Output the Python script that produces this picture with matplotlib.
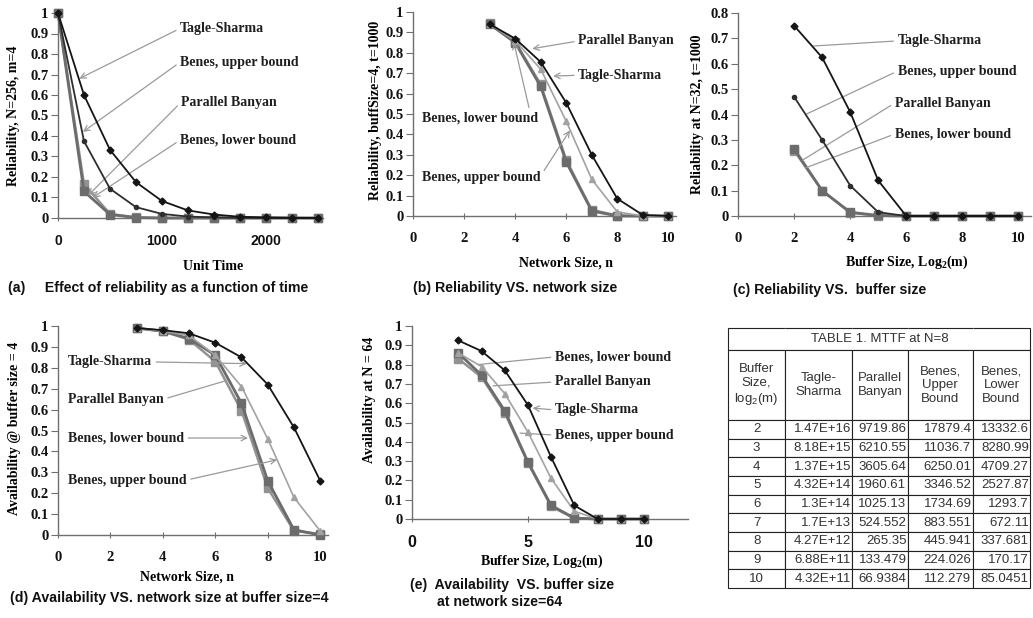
import matplotlib
matplotlib.use('Agg')
import numpy as np
import matplotlib.pyplot as plt
from matplotlib.table import Table

plt.rcParams['mathtext.default'] = 'regular'

# ---------------- data ----------------
# (a) reliability vs unit time, N=256, m=4
a_time = [0, 250, 500, 750, 1000, 1250, 1500, 1750, 2000, 2250, 2500]
a_tagle = [1.0, 0.60, 0.333, 0.175, 0.083, 0.037, 0.017, 0.006, 0.003, 0.001, 0.0]
a_benes_up = [1.0, 0.375, 0.143, 0.053, 0.020, 0.007, 0.003, 0.001, 0.0, 0.0, 0.0]
a_banyan = [1.0, 0.130, 0.017, 0.002, 0.0, 0.0, 0.0, 0.0, 0.0, 0.0, 0.0]
a_benes_low = [1.0, 0.165, 0.020, 0.003, 0.0, 0.0, 0.0, 0.0, 0.0, 0.0, 0.0]

# (b) reliability vs network size, buffSize=4, t=1000
b_n = [3, 4, 5, 6, 7, 8, 9, 10]
b_tagle = [0.94, 0.87, 0.755, 0.555, 0.30, 0.085, 0.005, 0.0]
b_banyan = [0.94, 0.86, 0.72, 0.465, 0.18, 0.02, 0.0, 0.0]
b_benes_up = [0.94, 0.85, 0.635, 0.265, 0.025, 0.0, 0.0, 0.0]
b_benes_low = [0.945, 0.855, 0.645, 0.275, 0.03, 0.002, 0.0, 0.0]

# (c) reliability vs buffer size, N=32, t=1000
c_buf = [2, 3, 4, 5, 6, 7, 8, 9, 10]
c_tagle = [0.75, 0.625, 0.41, 0.14, 0.0, 0.0, 0.0, 0.0, 0.0]
c_benes_up = [0.47, 0.30, 0.12, 0.015, 0.0, 0.0, 0.0, 0.0, 0.0]
c_banyan = [0.265, 0.10, 0.015, 0.002, 0.0, 0.0, 0.0, 0.0, 0.0]
c_benes_low = [0.258, 0.10, 0.013, 0.001, 0.0, 0.0, 0.0, 0.0, 0.0]

# (d) availability vs network size, buffer size 4
d_n = [3, 4, 5, 6, 7, 8, 9, 10]
d_tagle = [0.99, 0.98, 0.965, 0.92, 0.85, 0.72, 0.515, 0.26]
d_banyan = [0.99, 0.975, 0.955, 0.86, 0.71, 0.46, 0.18, 0.02]
d_benes_up = [0.99, 0.975, 0.94, 0.86, 0.63, 0.26, 0.025, 0.0]
d_benes_low = [0.99, 0.975, 0.935, 0.83, 0.595, 0.225, 0.02, 0.005]

# (e) availability vs buffer size, N=64
e_buf = [2, 3, 4, 5, 6, 7, 8, 9, 10]
e_tagle = [0.925, 0.87, 0.77, 0.59, 0.32, 0.07, 0.0, 0.0, 0.0]
e_banyan = [0.86, 0.79, 0.65, 0.45, 0.21, 0.04, 0.0, 0.0, 0.0]
e_benes_up = [0.86, 0.745, 0.56, 0.295, 0.07, 0.005, 0.0, 0.0, 0.0]
e_benes_low = [0.83, 0.735, 0.55, 0.29, 0.065, 0.003, 0.0, 0.0, 0.0]

# table 1: MTTF at N=8
t_buffer = [2, 3, 4, 5, 6, 7, 8, 9, 10]
t_tagle = [1.47e16, 8.18e15, 1.37e15, 4.32e14, 1.3e14, 1.7e13, 4.27e12, 6.88e11, 4.32e11]
t_banyan = [9719.86, 6210.55, 3605.64, 1960.61, 1025.13, 524.552, 265.35, 133.479, 66.9384]
t_benes_up = [17879.4, 11036.7, 6250.01, 3346.52, 1734.69, 883.551, 445.941, 224.026, 112.279]
t_benes_low = [13332.6, 8280.99, 4709.27, 2527.87, 1293.7, 672.11, 337.681, 170.17, 85.0451]
t_header = ['Buffer\nSize,\nlog$_2$(m)', 'Tagle-\nSharma', 'Parallel\nBanyan',
            'Benes,\nUpper\nBound', 'Benes,\nLower\nBound']

# ---------------- layout helpers ----------------
W, H = 1033, 618
SERIF = 'Liberation Serif'
SANS = 'Liberation Sans'
LBL = 10        # annotation / axis label size
CAP = 10.2      # caption size

fig = plt.figure(figsize=(W / 100, H / 100), dpi=100)
fig.patch.set_facecolor('white')


def rect(l, t, r, b):
    return [l / W, 1 - b / H, (r - l) / W, (b - t) / H]


def ftext(px, py, s, **kw):
    fig.text(px / W, 1 - py / H, s, **kw)


STYLES = {
    'tagle': dict(color='#151515', lw=1.3, marker='D', ms=3.5, zorder=6),
    'dots': dict(color='#2e2e2e', lw=1.3, marker='o', ms=3, zorder=5),
    'tri': dict(color='#a2a2a2', lw=1.2, marker='^', ms=5, zorder=4),
    'sq_dark': dict(color='#6c6c6c', lw=2.0, marker='s', ms=5.5, zorder=3),
    'sq_light': dict(color='#929292', lw=1.8, marker='s', ms=5.5, zorder=2),
}


def setup(ax, xlim, ylim, xticks, yticks, xfont, xsize):
    ax.set_xlim(*xlim)
    ax.set_ylim(*ylim)
    ax.patch.set_visible(False)
    for s in ('top', 'right'):
        ax.spines[s].set_visible(False)
    for s in ('left', 'bottom'):
        ax.spines[s].set_color('#707070')
        ax.spines[s].set_linewidth(1.0)
    ax.set_xticks(xticks)
    ax.set_yticks(yticks)
    ax.set_xticklabels([f'{v:g}' for v in xticks], fontfamily=xfont,
                       fontweight='bold', fontsize=xsize, color='#111')
    ax.set_yticklabels([f'{v:g}' for v in yticks], fontfamily=SERIF,
                       fontweight='bold', fontsize=10.5, color='#111')
    ax.tick_params(axis='x', direction='inout', length=5, width=0.8, color='#707070', pad=9)
    ax.tick_params(axis='y', direction='out', length=5, width=0.8, color='#707070', pad=2)


def draw(ax, x, y, style):
    ax.plot(x, y, clip_on=False, **STYLES[style])


def label(ax, text, xy, xytext, rel=(0, 0.5), arrow='->'):
    ax.annotate(text, xy=xy, xytext=xytext, ha='left', va='center',
                fontfamily=SERIF, fontweight='bold', fontsize=LBL, color='#1e1e1e',
                annotation_clip=False,
                arrowprops=dict(arrowstyle=arrow, color='#9a9a9a', lw=0.9,
                                relpos=rel, shrinkA=1, shrinkB=0))


def axis_text(px, py, s, rot=0):
    ftext(px, py, s, fontfamily=SERIF, fontweight='bold', fontsize=LBL,
          rotation=rot, ha='center', va='center')


def caption(px, py, s):
    ftext(px, py, s, fontfamily=SANS, fontweight='bold', fontsize=CAP,
          color='#111', ha='left', va='center')


yt10 = np.round(np.arange(0, 1.01, 0.1), 1)
yt8 = np.round(np.arange(0, 0.81, 0.1), 1)

# ---------------- (a) ----------------
ax = fig.add_axes(rect(58, 13, 323, 218))
setup(ax, (0, 2550), (0, 1), [0, 1000, 2000], yt10, SANS, 10)
draw(ax, a_time, a_benes_low, 'sq_light')
draw(ax, a_time, a_banyan, 'sq_dark')
draw(ax, a_time, a_benes_up, 'dots')
draw(ax, a_time, a_tagle, 'tagle')
label(ax, 'Tagle-Sharma', (205, 0.68), (1175, 0.925))
label(ax, 'Benes, upper bound', (240, 0.42), (1175, 0.76))
label(ax, 'Parallel Banyan', (290, 0.11), (1185, 0.565))
label(ax, 'Benes, lower bound', (335, 0.10), (1175, 0.38))
axis_text(213, 266, 'Unit Time')
axis_text(14, 116, 'Reliability, N=256, m=4', rot=90)
caption(8, 288, '(a)     Effect of reliability as a function of time')

# ---------------- (b) ----------------
ax = fig.add_axes(rect(413, 12, 676, 216))
setup(ax, (0, 10.3), (0, 1), [0, 2, 4, 6, 8, 10], yt10, SERIF, 10.5)
draw(ax, b_n, b_benes_low, 'sq_light')
draw(ax, b_n, b_benes_up, 'sq_dark')
draw(ax, b_n, b_banyan, 'tri')
draw(ax, b_n, b_tagle, 'tagle')
label(ax, 'Parallel Banyan', (4.67, 0.82), (6.47, 0.858))
label(ax, 'Tagle-Sharma', (5.49, 0.686), (6.47, 0.69))
label(ax, 'Benes, lower bound', (3.95, 0.85), (0.35, 0.48), rel=(0.93, 1))
label(ax, 'Benes, upper bound', (6.15, 0.42), (0.35, 0.19), rel=(1, 0.6))
axis_text(566, 263, 'Network Size, n')
axis_text(376, 110, 'Reliability, buffSize=4, t=1000', rot=90)
caption(413, 288, '(b) Reliability VS. network size')

# ---------------- (c) ----------------
ax = fig.add_axes(rect(738, 13, 1031, 216))
setup(ax, (0, 10.45), (0, 0.8), [0, 2, 4, 6, 8, 10], yt8, SERIF, 10.5)
draw(ax, c_buf, c_benes_low, 'sq_light')
draw(ax, c_buf, c_banyan, 'sq_dark')
draw(ax, c_buf, c_benes_up, 'dots')
draw(ax, c_buf, c_tagle, 'tagle')
label(ax, 'Tagle-Sharma', (2.7, 0.67), (5.69, 0.69), arrow='-')
label(ax, 'Benes, upper bound', (2.41, 0.40), (5.69, 0.571), arrow='-')
label(ax, 'Parallel Banyan', (2.3, 0.22), (5.59, 0.445), arrow='-')
label(ax, 'Benes, lower bound', (2.42, 0.19), (5.59, 0.323), arrow='-')
axis_text(907, 262, 'Buffer Size, Log$_2$(m)')
axis_text(697, 114, 'Reliability at N=32, t=1000', rot=90)
caption(733, 290, '(c) Reliability VS.  buffer size')

# ---------------- (d) ----------------
ax = fig.add_axes(rect(58, 326, 328, 535))
setup(ax, (0, 10.3), (0, 1), [0, 2, 4, 6, 8, 10], yt10, SERIF, 10.5)
draw(ax, d_n, d_benes_low, 'sq_light')
draw(ax, d_n, d_benes_up, 'sq_dark')
draw(ax, d_n, d_banyan, 'tri')
draw(ax, d_n, d_tagle, 'tagle')
label(ax, 'Tagle-Sharma', (7.2, 0.82), (0.38, 0.828), rel=(1, 0.5))
label(ax, 'Parallel Banyan', (6.45, 0.74), (0.38, 0.65), rel=(1, 0.5), arrow='-')
label(ax, 'Benes, lower bound', (7.25, 0.464), (0.38, 0.464), rel=(1, 0.5))
label(ax, 'Benes, upper bound', (8.36, 0.36), (0.38, 0.263), rel=(1, 0.5))
axis_text(187, 577, 'Network Size, n')
axis_text(15, 428, 'Availability @ buffer size = 4', rot=90)
caption(10, 598, '(d) Availability VS. network size at buffer size=4')

# ---------------- (e) ----------------
ax = fig.add_axes(rect(412, 326, 688, 519))
setup(ax, (0, 11.9), (0, 1), [0, 5, 10], yt10, SANS, 11.5)
draw(ax, e_buf, e_benes_low, 'sq_light')
draw(ax, e_buf, e_benes_up, 'sq_dark')
draw(ax, e_buf, e_banyan, 'tri')
draw(ax, e_buf, e_tagle, 'tagle')
label(ax, 'Benes, lower bound', (2.84, 0.80), (6.16, 0.84), arrow='-')
label(ax, 'Parallel Banyan', (3.49, 0.69), (6.16, 0.71), arrow='-')
label(ax, 'Tagle-Sharma', (5.2, 0.575), (6.16, 0.565))
label(ax, 'Benes, upper bound', (4.66, 0.445), (6.16, 0.435), arrow='-')
axis_text(542, 561, 'Buffer Size, Log$_2$(m)')
axis_text(370, 400, 'Availability at N = 64', rot=90)
caption(410, 585, '(e)  Availability  VS. buffer size')
caption(437, 602, 'at network size=64')

# ---------------- table ----------------
ax_t = fig.add_axes(rect(728, 328, 1030, 588))
ax_t.axis('off')
col_w = [57, 67, 55, 65, 57]
tbl = Table(ax_t, bbox=[0, 0, 1, 1])
title_edges = ['BTL', 'BT', 'BT', 'BT', 'BTR']
for c in range(5):
    tbl.add_cell(0, c, col_w[c], 22, text='TABLE 1. MTTF at N=8' if c == 2 else '',
                 loc='center', edgecolor='#222')
    tbl[0, c].visible_edges = title_edges[c]
    tbl.add_cell(1, c, col_w[c], 70, text=t_header[c], loc='center', edgecolor='#222')
columns = [t_buffer, t_tagle, t_banyan, t_benes_up, t_benes_low]
for r in range(len(t_buffer)):
    for c in range(5):
        v = columns[c][r]
        if c == 0:
            s, loc = str(v), 'center'
        elif c == 1:
            s, loc = f'{v:.3G}', 'right'
        else:
            s, loc = f'{v:.6g}', 'right'
        cell = tbl.add_cell(r + 2, c, col_w[c], 18.7, text=s, loc=loc, edgecolor='#222')
        cell.PAD = 0.02
tbl.auto_set_font_size(False)
tbl.set_fontsize(9.5)
for cell in tbl.get_celld().values():
    cell.set_linewidth(0.8)
    cell.get_text().set_fontfamily(SANS)
    cell.get_text().set_color('#333')
ax_t.add_table(tbl)

fig.savefig('out.png', dpi=100, facecolor='white')
